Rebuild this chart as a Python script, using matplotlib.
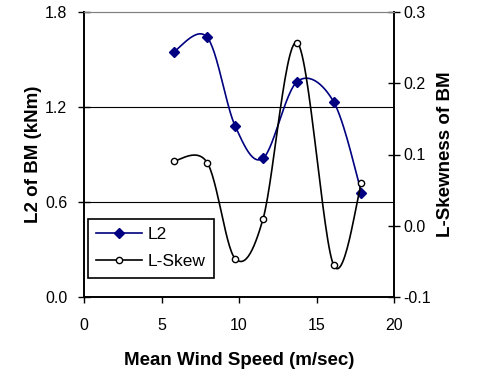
import numpy as np
import matplotlib.pyplot as plt
from matplotlib import rcParams

rcParams['font.family'] = ['Liberation Sans', 'DejaVu Sans']

# data
speed = [5.8, 7.95, 9.75, 11.55, 13.75, 16.1, 17.9]
l2 = [1.55, 1.64, 1.08, 0.876, 1.36, 1.234, 0.66]
lskew = [0.091, 0.0885, -0.046, 0.0095, 0.257, -0.055, 0.060]


def smooth(x, y, n=30):
    # Excel style smoothed line (Catmull-Rom through the points)
    p = np.column_stack([x, y]).astype(float)
    p = np.vstack([p[0], p, p[-1]])
    out = []
    for i in range(1, len(p) - 2):
        p0, p1, p2, p3 = p[i - 1], p[i], p[i + 1], p[i + 2]
        c1 = p1 + (p2 - p0) / 6
        c2 = p2 - (p3 - p1) / 6
        t = np.linspace(0, 1, n)[:, None]
        seg = ((1 - t) ** 3 * p1 + 3 * (1 - t) ** 2 * t * c1
               + 3 * (1 - t) * t ** 2 * c2 + t ** 3 * p2)
        out.append(seg if i == 1 else seg[1:])
    out = np.vstack(out)
    return out[:, 0], out[:, 1]


fig = plt.figure(figsize=(4.82, 3.73), dpi=100)
ax = fig.add_axes([84 / 482, 76 / 373, 310 / 482, 285 / 373])
ax2 = ax.twinx()

navy = '#000080'
sx, sy = smooth(speed, l2)
ax.plot(sx, sy, color=navy, lw=1.2)
ax.plot(speed, l2, ls='none', marker='D', ms=5.5, color=navy)

kx, ky = smooth(speed, lskew)
ax2.plot(kx, ky, color='black', lw=1.2)
ax2.plot(speed, lskew, ls='none', marker='o', ms=4.5, mfc='white', mec='black', mew=1)

# legend proxies
h1, = ax.plot([], [], color=navy, lw=1.2, marker='D', ms=5.5)
h2, = ax.plot([], [], color='black', lw=1.2, marker='o', ms=4.5, mfc='white', mec='black')

ax.set_xlim(0, 20)
ax.set_ylim(0, 1.8)
ax2.set_ylim(-0.1, 0.3)
ax.set_xticks([0, 5, 10, 15, 20])
ax.set_yticks([0, 0.6, 1.2, 1.8])
ax.set_yticklabels(['0.0', '0.6', '1.2', '1.8'])
ax2.set_yticks([-0.1, 0, 0.1, 0.2, 0.3])
ax2.set_yticklabels(['-0.1', '0.0', '0.1', '0.2', '0.3'])

for y in [0.6, 1.2]:
    ax.axhline(y, color='black', lw=0.8, zorder=0)

ax.tick_params(axis='x', direction='out', length=4, labelsize=11.5, width=1, pad=11)
ax.tick_params(axis='y', direction='inout', length=8, labelsize=11.5, width=1, pad=8)
ax2.tick_params(axis='y', direction='inout', length=8, labelsize=11.5, width=1, pad=3)

for a in (ax, ax2):
    a.spines['top'].set_color('#808080')
    a.spines['left'].set_linewidth(1.2)
    a.spines['right'].set_linewidth(1.2)
    a.spines['bottom'].set_linewidth(1.2)

ax.set_xlabel('Mean Wind Speed (m/sec)', fontweight='bold', fontsize=13.5, labelpad=14)
ax.set_ylabel('L2 of BM (kNm)', fontweight='bold', fontsize=13.5, labelpad=2)
ax2.set_ylabel('L-Skewness of BM', fontweight='bold', fontsize=13.5, labelpad=4)

leg = ax.legend([h1, h2], ['L2', 'L-Skew'], loc='lower left',
                bbox_to_anchor=(0.012, 0.067), fancybox=False, framealpha=1,
                edgecolor='black', fontsize=12.5, handlelength=2.65,
                handletextpad=0.3, borderpad=0.5, labelspacing=0.67,
                borderaxespad=0)
leg.get_frame().set_linewidth(1.2)

fig.savefig('out.png', dpi=100)
